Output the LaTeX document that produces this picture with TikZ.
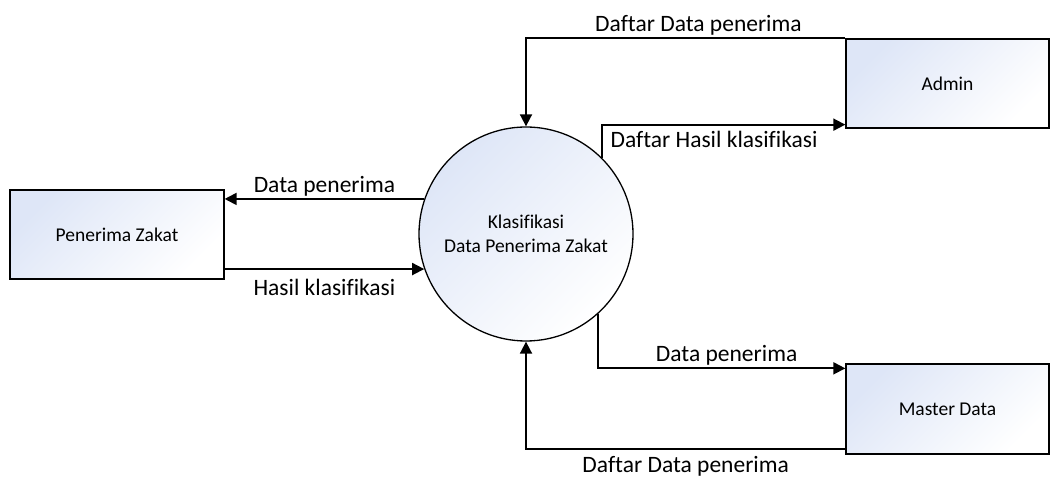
\documentclass[tikz,border=0pt]{standalone}
\usepackage{fontspec}
\setmainfont{Carlito}[Ligatures=CommonOff]
\usetikzlibrary{arrows.meta,calc}
\definecolor{boxtint}{RGB}{222,230,247}
\begin{document}
\begin{tikzpicture}[x=1pt, y=1pt, >={Triangle[length=12pt,width=12pt]}, line width=1.8pt,
		entity/.style={draw, line width=1.3pt, top color=boxtint, bottom color=white, shading angle=45,
			minimum width=203pt, minimum height=89pt, inner sep=0pt, font=\fontsize{19.5}{23.5}\selectfont},
		process/.style={circle, draw, line width=1.3pt, top color=boxtint, bottom color=white, shading angle=45,
			minimum size=214pt, inner sep=0pt, align=center, font=\fontsize{19.5}{23.5}\selectfont},
		flowlabel/.style={font=\fontsize{23.5}{28}\selectfont, inner sep=2pt}]
	\useasboundingbox (0,0) rectangle (1050,479);
	
	% 1. entitas luar dan proses
	\node[entity, minimum width=214pt] (pz) at (117,244.5) {Penerima Zakat};
	\node[entity] (admin) at (947.5,395.5) {Admin};
	\node[entity, minimum height=90pt] (master) at (947.5,70) {Master Data};
	\node[process] (proc) at (526,245) {Klasifikasi\\Data Penerima Zakat};
	
	% 2. aliran dengan admin
	\draw[->] (admin.north west) -| node[flowlabel, above, pos=0.23] {Daftar Data penerima} (proc.north);
	\draw[->] (proc.45) |- node[flowlabel, below=4pt, pos=0.73] {Daftar Hasil klasifikasi} ($(admin.south west)+(0,4)$);
	
	% 3. aliran dengan penerima zakat
	\draw[->] (proc.161) -- node[flowlabel, above] {Data penerima} (proc.161 -| pz.east);
	\draw[->] (pz.east |- proc.199) -- node[flowlabel, below=7pt] {Hasil klasifikasi} (proc.199);
	
	% 4. aliran dengan master data
	\draw[->] (proc.-48) |- node[flowlabel, above, pos=0.76] {Data penerima} ($(master.north west)+(0,-5)$);
	\draw[->] ($(master.south west)+(0,6)$) -| node[flowlabel, below=5pt, pos=0.25] {Daftar Data penerima} (proc.south);
\end{tikzpicture}
\end{document}
